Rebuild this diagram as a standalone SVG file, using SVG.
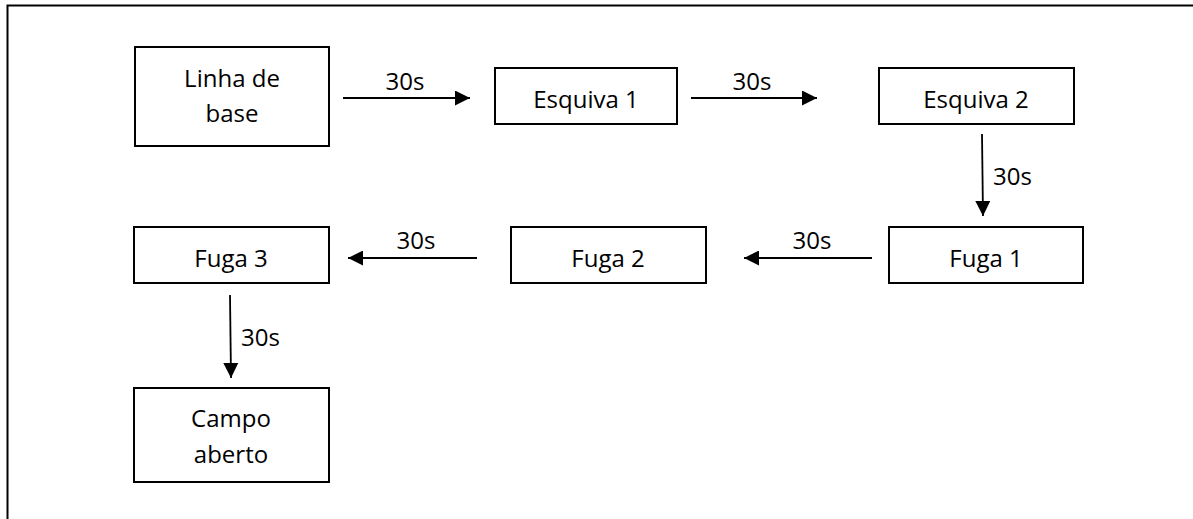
<svg xmlns="http://www.w3.org/2000/svg" width="1193" height="519" viewBox="0 0 1193 519">
<defs>
<style>
.box{fill:#fff;stroke:#000;stroke-width:2}
.t{font-family:"Open Sans","Liberation Sans",sans-serif;font-size:24px;fill:#000;text-anchor:middle}
.l{font-family:"Open Sans","Liberation Sans",sans-serif;font-size:24px;fill:#000}
.c{stroke:#000;stroke-width:1.8;fill:none;marker-end:url(#ah)}
</style>
<marker id="ah" viewBox="0 0 10 10" refX="10" refY="5" markerWidth="15" markerHeight="15" markerUnits="userSpaceOnUse" orient="auto">
<path d="M0,0 L10,5 L0,10 Z" fill="#000"/>
</marker>
</defs>
<rect width="1193" height="519" fill="#fff"/>
<path d="M7.5,519 V5.5 H1193" fill="none" stroke="#000" stroke-width="2"/>
<g id="n1"><rect class="box" x="135" y="47" width="194" height="99"/><text class="t" x="232" y="87">Linha de</text><text class="t" x="232" y="122">base</text></g>
<g id="n2"><rect class="box" x="495" y="68" width="182" height="56"/><text class="t" x="586" y="108">Esquiva 1</text></g>
<g id="n3"><rect class="box" x="879" y="68" width="195" height="56"/><text class="t" x="976" y="108">Esquiva 2</text></g>
<g id="n4"><rect class="box" x="889" y="227" width="194" height="56"/><text class="t" x="986" y="267">Fuga 1</text></g>
<g id="n5"><rect class="box" x="511" y="227" width="195" height="56"/><text class="t" x="608" y="267">Fuga 2</text></g>
<g id="n6"><rect class="box" x="134" y="227" width="195" height="56"/><text class="t" x="231" y="267">Fuga 3</text></g>
<g id="n7"><rect class="box" x="134" y="388" width="195" height="94"/><text class="t" x="231" y="427">Campo</text><text class="t" x="231" y="463">aberto</text></g>
<g id="connectors">
<line class="c" x1="343" y1="98" x2="470" y2="98"/>
<text class="t" x="405" y="90">30s</text>
<line class="c" x1="691" y1="98" x2="817" y2="98"/>
<text class="t" x="752" y="90">30s</text>
<line class="c" x1="982" y1="134" x2="983" y2="216"/>
<text class="l" x="993" y="185">30s</text>
<line class="c" x1="872" y1="258" x2="744" y2="258"/>
<text class="t" x="812" y="249">30s</text>
<line class="c" x1="477" y1="258" x2="348" y2="258"/>
<text class="t" x="416" y="249">30s</text>
<line class="c" x1="230" y1="295" x2="231" y2="378"/>
<text class="l" x="241" y="346">30s</text>
</g>
</svg>
